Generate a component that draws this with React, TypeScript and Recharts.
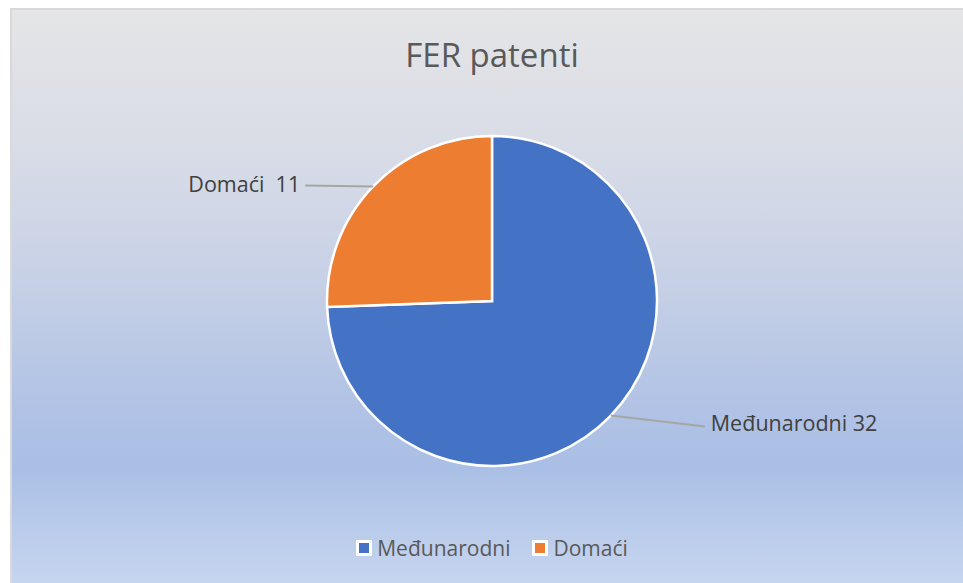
import React from "react";
import { PieChart, Pie, Cell, Legend } from "recharts";

const names = ["Međunarodni", "Domaći"];
const values = [32, 11];
const colors = ["#4472C4", "#ED7D31"];
// label text as shown on the chart
const labelTexts = ["Međunarodni 32", "Domaći  11"];

const data = names.map((name, i) => ({ name, value: values[i] }));

const RADIAN = Math.PI / 180;
const FONT = "'Open Sans', 'Noto Sans', sans-serif";

// where each leader line ends, relative to the slice edge
const leaderOffsets = [
  { dx: 94, dy: 11 },
  { dx: -68, dy: -1 },
];

const renderLabel = (props: any) => {
  const { cx, cy, midAngle, outerRadius, index } = props;
  const sx = cx + outerRadius * Math.cos(-midAngle * RADIAN);
  const sy = cy + outerRadius * Math.sin(-midAngle * RADIAN);
  const off = leaderOffsets[index];
  const ex = sx + off.dx;
  const ey = sy + off.dy;
  const right = off.dx > 0;
  return (
    <g>
      <path d={`M${sx},${sy}L${ex},${ey}`} stroke="#a6a6a6" strokeWidth={2} fill="none" />
      <text
        x={right ? ex + 6 : ex - 5}
        y={right ? ey - 4 : ey - 2}
        textAnchor={right ? "start" : "end"}
        dominantBaseline="central"
        fill="#404040"
        fontSize={21.5}
        fontFamily={FONT}
        style={{ whiteSpace: "pre" }}
      >
        {labelTexts[index]}
      </text>
    </g>
  );
};

const LegendContent = () => (
  <div style={{ display: "flex", justifyContent: "center", fontFamily: FONT, fontSize: 21, color: "#595959", lineHeight: "28px" }}>
    {names.map((n, i) => (
      <div key={n} style={{ display: "flex", alignItems: "center", marginRight: i === 0 ? 22 : 0 }}>
        <span
          style={{
            display: "inline-block",
            width: 10,
            height: 10,
            background: colors[i],
            border: "3px solid #ffffff",
            marginRight: 5,
          }}
        />
        <span>{n}</span>
      </div>
    ))}
  </div>
);

const App: React.FC = () => {
  return (
    <div style={{ position: "absolute", left: 0, top: 0, width: 963, height: 583, background: "#ffffff", overflow: "hidden" }}>
      <div
        style={{
          position: "absolute",
          left: 10,
          top: 8,
          width: 953,
          height: 575,
          borderLeft: "2px solid #d9d9d9",
          borderTop: "2px solid #d9d9d9",
          boxSizing: "border-box",
          background:
            "linear-gradient(180deg, #e5e5e6 0%, #d8dce6 25%, #c4cfe6 50%, #b2c3e5 68%, #aabfe5 80%, #b9cbeb 90%, #c6d5ef 100%)",
        }}
      />
      <div
        style={{
          position: "absolute",
          left: 0,
          top: 32,
          width: 984,
          textAlign: "center",
          fontFamily: FONT,
          fontSize: 33,
          lineHeight: "46px",
          color: "#595959",
        }}
      >
        FER patenti
      </div>
      <div style={{ position: "absolute", left: 0, top: 0 }}>
        <PieChart width={963} height={583} margin={{ top: 0, right: 0, bottom: 0, left: 0 }}>
          <Pie
            data={data}
            dataKey="value"
            nameKey="name"
            cx={492}
            cy={301}
            outerRadius={165}
            startAngle={90}
            endAngle={-270}
            stroke="#ffffff"
            strokeWidth={2.5}
            label={renderLabel}
            labelLine={false}
            isAnimationActive={false}
          >
            {data.map((d, i) => (
              <Cell key={d.name} fill={colors[i]} />
            ))}
          </Pie>
          <Legend content={<LegendContent />} wrapperStyle={{ position: "absolute", top: 534, left: 0, width: 984 }} />
        </PieChart>
      </div>
    </div>
  );
};

export default App;
